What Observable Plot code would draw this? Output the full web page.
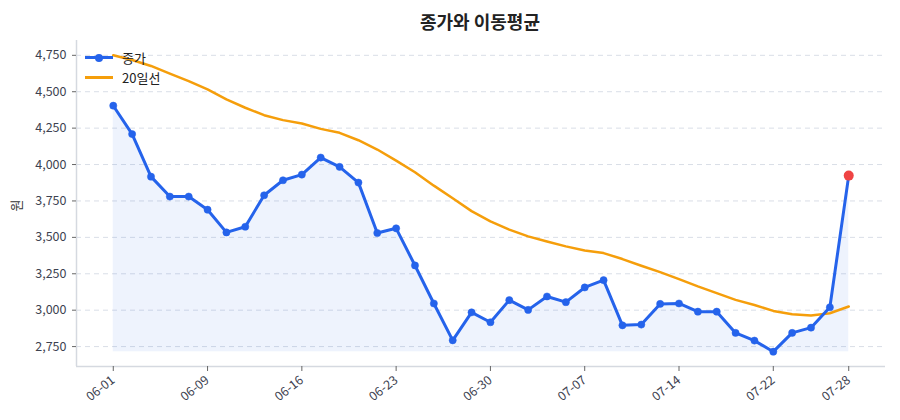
<!DOCTYPE html>
<html>
<head>
<meta charset="utf-8">
<script src="https://cdn.jsdelivr.net/npm/d3@7"></script>
<script src="https://cdn.jsdelivr.net/npm/@observablehq/plot@0.6"></script>
<style>
  html, body { margin: 0; padding: 0; background: #fff; }
  body { font-family: "Noto Sans CJK KR", "Noto Sans", sans-serif; width: 900px; height: 420px; position: relative; overflow: hidden; }
  #title { height: 36px; box-sizing: border-box; padding: 8px 15px 0 75px; text-align: center; font-size: 18px; font-weight: 700; color: #222; line-height: 26px; }
  #ylab { position: absolute; left: 10px; top: 196px; transform: rotate(-90deg); font-size: 13px; color: #333; }
  #legend { position: absolute; left: 85px; top: 48px; font-size: 13px; color: #222; }
  .li { display: flex; align-items: center; height: 19.5px; }
  .sw { width: 28px; position: relative; height: 20px; margin-right: 9px; }
  .sw .ln { position: absolute; left: 0; right: 0; top: 8.5px; height: 3px; }
  .sw .dt { position: absolute; left: 10px; top: 6px; width: 8px; height: 8px; border-radius: 50%; }
</style>
</head>
<body>
<div id="title">종가와 이동평균</div>
<div id="chart"></div>
<div id="ylab">원</div>
<div id="legend"></div>
<script>
// ---- data ----
const dates = ["06-01","06-02","06-04","06-05","06-08","06-09","06-10","06-11","06-12","06-15",
               "06-16","06-17","06-18","06-19","06-22","06-23","06-24","06-25","06-26","06-29",
               "06-30","07-01","07-02","07-03","07-06","07-07","07-08","07-09","07-10","07-13",
               "07-14","07-15","07-16","07-20","07-21","07-22","07-23","07-24","07-27","07-28"];
const close = [4404,4209,3917,3780,3780,3690,3534,3573,3789,3892,
               3931,4048,3984,3876,3530,3562,3307,3046,2793,2985,
               2917,3069,3002,3094,3055,3156,3206,2896,2901,3043,
               3046,2990,2990,2844,2791,2715,2844,2880,3020,3924];
const ma20 = [4750,4718,4677,4624,4573,4516,4447,4390,4339,4305,
              4282,4245,4218,4167,4103,4027,3947,3855,3768,3680,
              3610,3553,3507,3472,3438,3410,3392,3351,3305,3261,
              3213,3163,3117,3071,3036,2995,2972,2963,2979,3025];
const tickIdx = [0,5,10,15,20,25,30,35,39];
const yTicks = [2750,3000,3250,3500,3750,4000,4250,4500,4750];
const seriesNames = ["종가","20일선"];
const colors = {close: "#2563eb", ma: "#f59e0b", last: "#ef4444"};

const data = close.map((c, i) => ({i, date: dates[i], close: c, ma: ma20[i]}));
const minClose = d3.min(close);
const n = data.length;
const xDomain = [-0.05 * (n - 1), (n - 1) * 1.05];
const yExt = [minClose, d3.max([...close, ...ma20])];
const yPad = (yExt[1] - yExt[0]) * 0.05;
const yDomain = [yExt[0] - yPad, yExt[1] + yPad];

const chart = Plot.plot({
  width: 900,
  height: 384,
  marginTop: 4,
  marginBottom: 54,
  marginLeft: 76,
  marginRight: 15,
  style: {fontFamily: '"Noto Sans CJK KR", "Noto Sans", sans-serif', fontSize: "12.5px", color: "#3d4250", background: "#fff"},
  x: {domain: xDomain},
  y: {domain: yDomain},
  marks: [
    Plot.gridY(yTicks, {stroke: "#d9dee7", strokeOpacity: 1, strokeDasharray: "5,4", strokeWidth: 1}),
    Plot.areaY(data, {x: "i", y1: minClose, y2: "close", fill: colors.close, fillOpacity: 0.08}),
    Plot.lineY(data, {x: "i", y: "ma", stroke: colors.ma, strokeWidth: 2.5, curve: "linear"}),
    Plot.lineY(data, {x: "i", y: "close", stroke: colors.close, strokeWidth: 3}),
    Plot.dot(data.slice(0, n - 1), {x: "i", y: "close", r: 3.6, fill: colors.close, stroke: colors.close, strokeWidth: 0.5}),
    Plot.dot(data.slice(n - 1), {x: "i", y: "close", r: 5, fill: colors.last}),
    Plot.ruleX([xDomain[0]], {stroke: "#d5d9e0", strokeWidth: 1.5}),
    Plot.ruleY([yDomain[0]], {stroke: "#d5d9e0", strokeWidth: 1.5}),
    Plot.axisY(yTicks, {tickFormat: d3.format(","), tickSize: 4, tickPadding: 6, stroke: "#666", label: null, fontSize: 12.5, fill: "#3d4250"}),
    Plot.axisX(tickIdx, {tickFormat: i => dates[i], tickSize: 5, tickPadding: 7, tickRotate: -38, stroke: "#666", label: null, fontSize: 12.5, fill: "#3d4250"})
  ]
});
document.getElementById("chart").appendChild(chart);

// legend
const leg = document.getElementById("legend");
const items = [
  {name: seriesNames[0], color: colors.close, dot: true},
  {name: seriesNames[1], color: colors.ma, dot: false}
];
for (const it of items) {
  const row = document.createElement("div");
  row.className = "li";
  row.innerHTML = `<div class="sw"><div class="ln" style="background:${it.color}"></div>${it.dot ? `<div class="dt" style="background:${it.color}"></div>` : ""}</div><span>${it.name}</span>`;
  leg.appendChild(row);
}
</script>
</body>
</html>
